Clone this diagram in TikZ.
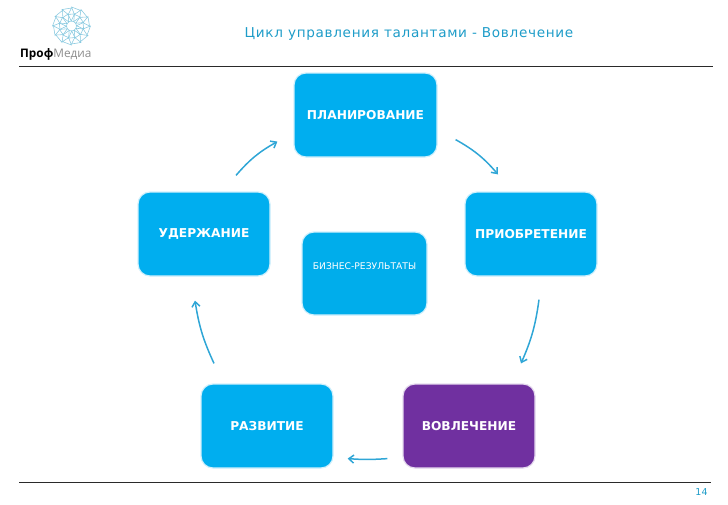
\documentclass[tikz,border=0pt]{standalone}
\usepackage{fontspec}
\setmainfont{DejaVu Sans}
\newfontfamily\logofont{Open Sans}
\usetikzlibrary{arrows.meta}
\definecolor{cyclebox}{HTML}{00AEEF}
\definecolor{centerbox}{HTML}{00ADEB}
\definecolor{purplebox}{HTML}{7030A0}
\definecolor{cycleline}{HTML}{2FA6D6}
\definecolor{titleblue}{HTML}{1E9CC8}
\definecolor{logoblue}{HTML}{86C8DF}
\definecolor{rulegray}{HTML}{2A2A2A}
\tikzset{
  cyclenode/.style={draw=cyclebox!18, fill=cyclebox, rounded corners=12pt, line width=1.2pt,
    minimum width=132pt, minimum height=84pt, text=white, font=\bfseries\fontsize{12.2}{14}\selectfont, inner sep=0pt},
  cyclearrow/.style={draw=cycleline, line width=1.5pt, -{Straight Barb[length=5pt,width=8pt]}},
}
\begin{document}
\begin{tikzpicture}[x=1pt, y=-1pt]
  \useasboundingbox (0,0) rectangle (728,504);
  % logo
  \begin{scope}[shift={(71.5,26)}, draw=logoblue, line width=0.55pt]
    \foreach \a in {0,30,...,330} {
      \draw (\a:19) -- (\a+30:18) -- (\a+14:12) -- cycle;
      \draw (\a+14:12) -- (\a+44:12.5) -- (\a+27:5) -- cycle;
      \draw (\a+27:5) -- (\a+57:5);
    }
  \end{scope}
  \node[anchor=west, inner sep=0pt, font=\logofont\fontsize{11.8}{14}\selectfont] (logo) at (20,54)
    {\textbf{Проф}\textcolor{black!45}{Медиа}};
  % title and rules
  \node[text=titleblue, font=\fontsize{13.6}{16}\selectfont\addfontfeatures{LetterSpace=5}, inner sep=0pt] (title) at (409,34)
    {Цикл управления талантами - Вовлечение};
  \coordinate (topleft) at (19,66);
  \coordinate (topright) at (713,66);
  \coordinate (botleft) at (19,482.5);
  \coordinate (botright) at (711,482.5);
  \draw[rulegray, line width=0.9pt] (topleft) -- (topright);
  \draw[rulegray, line width=0.9pt] (botleft) -- (botright);
  \node[text=titleblue, font=\fontsize{9.5}{11}\selectfont, inner sep=0pt] (pageno) at (701.5,492.5) {14};
  % boxes
  \node[cyclenode, minimum width=143pt] (plan) at (365.5,115) {ПЛАНИРОВАНИЕ};
  \node[cyclenode] (acquire) at (531,234) {ПРИОБРЕТЕНИЕ};
  \node[cyclenode] (engage) at (469,426) [draw=purplebox!18, fill=purplebox] {ВОВЛЕЧЕНИЕ};
  \node[cyclenode] (develop) at (267,426) {РАЗВИТИЕ};
  \node[cyclenode] (retain) at (204,234) {УДЕРЖАНИЕ};
  \node[cyclenode, fill=centerbox, minimum width=125pt, minimum height=83pt,
    label={[text=white, font=\fontsize{9.2}{11}\selectfont, yshift=7pt]center:БИЗНЕС-РЕЗУЛЬТАТЫ}] (result) at (364.5,273.5) {};
  % arrows
  \draw[cyclearrow] ([shift={(32,-16)}]retain.north) to[bend left=10] ([shift={(-16,-16)}]plan.south west);
  \draw[cyclearrow] ([shift={(18,-18)}]plan.south east) to[bend left=10] ([shift={(-33,-17)}]acquire.north);
  \draw[cyclearrow] ([shift={(8,23)}]acquire.south) to[bend left=8] ([shift={(52,-20)}]engage.north);
  \draw[cyclearrow] ([shift={(-15,-10)}]engage.south west) to[bend left=4] ([shift={(14,-10)}]develop.south east);
  \draw[cyclearrow] ([shift={(-53,-20)}]develop.north) to[bend left=8] ([shift={(-9,24)}]retain.south);
\end{tikzpicture}
\end{document}
